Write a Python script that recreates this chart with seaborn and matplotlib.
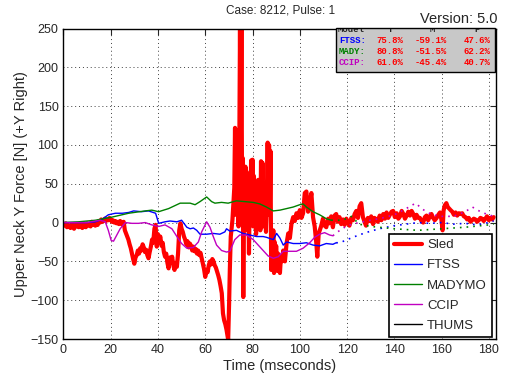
import numpy as np
import pandas as pd
import seaborn as sns
import matplotlib.pyplot as plt
from matplotlib.patches import Rectangle

# ---------------- data ----------------
# Sled, split into pieces: quiet start, pre-impact dip, spike zone, tail
sled_t_a = [0, 0.5, 1, 1.5, 2, 2.5, 3, 3.5, 4, 4.5, 5, 5.5, 6, 6.5, 7, 7.5, 8, 8.5, 9, 9.5,
            10, 10.5, 11, 11.5, 12, 12.5, 13, 13.5, 14, 14.5, 15, 15.5, 16, 16.5, 17, 17.5,
            18, 18.5, 19, 19.5, 20, 20.5, 21, 21.5, 22, 22.5, 23, 23.5, 24, 24.5, 25, 25.5]
sled_f_a = [-2, -4, -1, -6, -3, -5, -7, -2, -4, -8, -3, -5, -2, -6, -1, -4, -7, -3, -2, -6,
            -1, -4, -2, -5, 1, -3, 0, -4, -1, -3, 2, 0, 4, 1, 3, 5, 2, 4, 3, 6,
            4, 1, 3, 0, 2, -1, 1, -2, 2, 0, -3, 1]

sled_t_b = [26, 26.5, 27, 27.5, 28, 28.5, 29, 29.5, 30, 30.5, 31, 31.5, 32, 32.5, 33, 33.5,
            34, 34.5, 35, 35.5, 36, 36.5, 37, 37.5, 38, 38.5, 39, 39.5, 40, 40.5, 41, 41.5,
            42, 42.5, 43, 43.5, 44, 44.5, 45, 45.5, 46, 46.5, 47, 47.5, 48, 48.5, 49, 49.5,
            50, 50.5, 51, 51.5, 52, 52.5, 53, 53.5, 54, 54.5, 55, 55.5, 56, 56.5, 57, 57.5,
            58, 58.5, 59, 59.5, 60, 60.5, 61, 61.5, 62, 62.5, 63, 63.5, 64, 64.5, 65, 65.5,
            66, 66.5, 67, 67.5, 68, 68.5, 69, 69.7, 70.1, 70.4, 70.8, 71.5]
sled_f_b = [-10, -14, -18, -22, -28, -33, -40, -47, -53, -45, -42, -36, -40, -33, -36, -28,
            -32, -38, -35, -42, -46, -38, -31, -22, -26, -8, -3, -31, -15, -22, -18, -30,
            -26, -38, -44, -40, -52, -59, -45, -52, -44, -55, -61, -52, -57, -40, -10, -1,
            -8, -12, -18, -22, -28, -24, -32, -27, -30, -36, -31, -37, -34, -40, -36, -42,
            -39, -46, -53, -60, -70, -61, -64, -55, -50, -54, -47, -50, -55, -58, -63, -68,
            -74, -82, -91, -117, -126, -131, -138, -151, -104, -61, -18, 3]

sled_t_c = [72.0, 72.3, 72.6, 72.9, 73.2, 73.5, 73.8, 74.1, 74.4, 74.7, 75.0, 75.3, 75.6,
            75.9, 76.1, 76.4, 76.7, 77.0, 77.3, 77.6, 77.9, 78.2, 78.5, 78.8, 79.1, 79.4,
            79.7, 80.0, 80.3, 80.6, 80.9, 81.2, 81.5, 81.8, 82.1, 82.4, 82.7, 83.0, 83.3,
            83.6, 83.9, 84.2, 84.5, 84.8, 85.1, 85.4, 85.7, 86.0, 86.4, 86.7, 87.0, 87.3,
            87.6, 87.9, 88.2, 88.5, 88.8, 89.1, 89.4, 89.7, 90.0, 90.4, 90.8, 91.2, 91.6,
            92.0, 92.3]
sled_f_c = [30, 45, 122, 10, 118, 40, 119, -5, 90, 248, 60, 249, 20,
            83, -96, 70, 10, 72, 0, 65, -10, 50, -40, 30, 5, 80,
            20, 81, -5, 60, 10, 45, -15, 40, 0, 55, 10, 50, -10,
            79, 15, 77, -5, 50, 0, 35, -12, 20, 103, 30, 100, 10,
            92, -61, -20, -44, -10, -65, -25, -55, -30, -62, -40, -58, -65,
            -45, -50]

sled_t_d = [93.0, 93.7, 94.4, 95.1, 95.8, 96.5, 97.2, 97.9, 98.6, 99.3, 100.0, 100.7, 101.4,
            102.1, 102.8, 103.5, 104.2, 104.9, 105.6, 106.3, 107.0, 107.4, 108.0, 109.0,
            109.8, 110.5, 111.2, 112.0, 112.6, 113.3, 114.0, 114.7, 115.4, 116.1, 116.8,
            117.5, 118.3, 119.0, 119.7, 120.4, 121.0, 121.8, 122.5, 123.2, 123.9, 124.6,
            125.3, 126.0, 126.7, 127.4, 128.0, 128.8, 129.5, 130.2, 131.0, 131.6, 132.3,
            133.0, 133.8, 134.5, 135.3, 136.0, 136.7, 137.4, 138.1, 138.8, 139.5, 140.2,
            141.0, 141.7, 142.4, 143.1, 143.8, 144.5, 145.2, 145.9, 146.6, 147.3, 148.0,
            148.7, 149.4, 150.1, 150.8, 151.5, 152.2, 152.9, 153.6, 154.3, 155.0, 155.7,
            156.4, 157.1, 157.9, 158.6, 159.3, 159.9, 160.4, 160.8, 161.3, 162.0, 162.6,
            163.2, 163.8, 164.5, 165.2, 165.9, 166.6, 167.3, 168.0, 168.7, 169.4, 170.1,
            170.8, 171.5, 172.2, 172.9, 173.6, 174.3, 175.0, 175.7, 176.4, 177.1, 177.8,
            178.5, 179.2, 180.0, 180.7, 181.4, 182.0]
sled_f_d = [-36, -50, -27, -14, -20, -1, 7, 2, 12, 6, 16, 6, 12,
            38, 40, 14, 24, 38, 7, -5, -27, -44, -14, -5,
            5, -4, -6, 5, -1, 8, -6, 9, 11, 1, 7,
            -2, 4, -3, 5, 0, -4, 6, 3, 11, 15, 6,
            21, 25, 7, 1, -4, 6, 2, 8, -2, 6, 4,
            1, 9, 3, 11, 5, 13, 6, 10, 14, 15, 7,
            12, 5, 8, 15, 11, 5, 9, 14, 9, 15, 11,
            5, 10, 6, 6, 2, 0, 7, 9, 3, 8, 11,
            6, 3, 6, 10, 13, 4, -10, 15, 22, 25, 20,
            18, 16, 14, 10, 13, 9, 12, 11, 12, 8, 7,
            4, 6, 1, 3, 5, 4, 1, 3, 6, 5, 2,
            5, 8, 3, 6, 4, 7]

ftss_t = [0, 5, 10, 13.5, 16.3, 19, 22, 25, 27.6, 29.7, 33, 36, 39, 40.3, 43, 45.1,
          48, 50, 52.2, 53.6, 55, 56.4, 57.8, 60.6, 63.4, 66.2, 68.3, 69, 70.4, 73.2,
          76, 78.8, 81.7, 84.5, 85.9, 88.8, 90.2, 91.6, 93, 94.4, 97.2, 100, 102.8,
          105.6, 108.4, 111.2, 114, 115.4]
ftss_f = [0, 0, 0, 1, 4, 10, 12, 12, 13, 15, 14, 15, 12, -1, 1, 2,
          1, 3, -6, -8, -7, -10, -15, -15, -14, -15, -12, -8, -11, -10,
          -14, -16, -18, -18, -19, -22, -14, -20, -29, -25, -27, -27, -26,
          -29, -30, -27, -28, -26]
ftss_dot_t = [115.4, 117, 120, 125, 130, 135, 140, 145, 150, 155, 160, 165, 170, 175, 180, 182]
ftss_dot_f = [-26, -26, -22, -16, -11, -7, -4, -2, 0, -1, 0, -2, -1, -3, 0, 2]

mady_t = [0, 6.5, 13.5, 20.5, 27.6, 34.6, 37.4, 40.3, 44.5, 49.4, 53.6, 55.7, 57.8,
          60.6, 62.7, 64.1, 66.9, 69.7, 73.2, 76.7, 80.3, 83.1, 85.9, 88.8, 91.6,
          94.4, 97.2, 100, 101.4, 102.8, 105.6, 108.4, 111.2, 113.3]
mady_f = [0, 1, 3, 7, 12, 15, 16, 14, 18, 25, 25, 23, 27,
          33, 27, 25, 26, 25, 28, 27, 26, 24, 20, 15, 16,
          18, 20, 23, 24, 20, 14, 10, 5, 3]
mady_dot_t = [113.3, 118, 122, 125, 130, 140, 150, 160, 170, 180, 182]
mady_dot_f = [3, 3, 8, -2, -5, -8, -10, -8, -6, -3, -2]

ccip_t = [0, 10, 15.6, 17.7, 19, 20.2, 21.2, 22.6, 24, 26.2, 29, 31.8, 34.6, 37.4,
          40.3, 43, 45.9, 48, 50, 52.2, 55, 57.1, 58.5, 60.6, 62, 63.4, 64.8, 66.9,
          69, 70.4, 72.5, 74.6, 77.4, 80.3, 82.4, 84.5, 86.6, 88.8, 90.9, 93, 95.8,
          98.6, 101.4, 104.2, 106.3, 108.4, 110.5, 112.6, 114]
ccip_f = [0, 0, 3, 1, -10, -23, -24, -16, -8, 0, -1, -1, 0, -3,
          -5, -3, -8, -18, -27, -33, -32, -25, -12, 1, -6, -18, -29, -36,
          -38, -37, -22, -16, -16, -22, -29, -36, -43, -46, -44, -37, -37,
          -37, -33, -26, -19, -15, -13, -16, -17]
ccip_dot_t = [114, 116, 120, 125, 130, 135, 140, 145, 149, 152, 156, 160, 165, 170, 173, 177, 182]
ccip_dot_f = [-17, -12, -4, 0, 3, 6, 10, 18, 25, 17, 10, 8, 8, 14, 20, 13, 8]

table_models = ["FTSS:", "MADY:", "CCIP:"]
table_colors = ["#0000ff", "#008000", "#c000c0"]
table_t = ["75.8%", "80.8%", "61.0%"]
table_m = ["-59.1%", "-51.5%", "-45.4%"]
table_p = ["47.6%", "62.2%", "40.7%"]

sled = pd.DataFrame({"t": sled_t_a + sled_t_b + sled_t_c + sled_t_d,
                     "f": sled_f_a + sled_f_b + sled_f_c + sled_f_d})

# ---------------- plot ----------------
sns.set_style("white")
plt.rcParams['font.family'] = ['Liberation Sans', 'DejaVu Sans']

fig = plt.figure(figsize=(5.07, 3.87), dpi=100)
ax = fig.add_axes([63.4 / 507, 1 - 339 / 387, 432.6 / 507, 310.5 / 387])

sns.lineplot(data=sled, x="t", y="f", color="#ff0000", lw=3, label="Sled", ax=ax,
             sort=False, estimator=None)
sns.lineplot(x=ftss_t, y=ftss_f, color="#0000ff", lw=1, label="FTSS", ax=ax,
             sort=False, estimator=None)
sns.lineplot(x=mady_t, y=mady_f, color="#008000", lw=1, label="MADYMO", ax=ax,
             sort=False, estimator=None)
sns.lineplot(x=ccip_t, y=ccip_f, color="#c000c0", lw=1, label="CCIP", ax=ax,
             sort=False, estimator=None)
ax.plot([], [], color="k", lw=1, label="THUMS")

# dotted continuations
ax.plot(ftss_dot_t, ftss_dot_f, color="#0000ff", lw=1.2, ls=(0, (1, 3)))
ax.plot(mady_dot_t, mady_dot_f, color="#008000", lw=1.2, ls=(0, (1, 3)))
ax.plot(ccip_dot_t, ccip_dot_f, color="#c000c0", lw=1.2, ls=(0, (1, 3)))

ax.set_xlim(0, 183)
ax.set_ylim(-150, 250)
ax.set_xticks(np.arange(0, 181, 20))
ax.set_yticks(np.arange(-150, 251, 50))
ax.grid(True, color="#404040", ls=(0, (1, 3)), lw=0.7)
ax.tick_params(direction="in", top=True, right=True, length=4, labelsize=9)
for s in ax.spines.values():
    s.set_color("k")
    s.set_linewidth(1)

ax.set_xlabel("Time (mseconds)", fontsize=10.5, labelpad=2)
ax.set_ylabel("Upper Neck Y Force [N] (+Y Right)", fontsize=10.5, labelpad=2)

fig.text(0.553, 0.972, "Case: 8212, Pulse: 1", ha="center", va="center", fontsize=8.5)
fig.text(0.982, 0.952, "Version: 5.0", ha="right", va="center", fontsize=10.5)

leg = ax.legend(loc="lower right", bbox_to_anchor=(0.991, 0.006), borderaxespad=0,
                fontsize=9.5, handlelength=2.1, labelspacing=0.6, frameon=True,
                fancybox=False, edgecolor="k", borderpad=0.4, handletextpad=0.4)
leg.get_frame().set_linewidth(1.2)
leg.get_frame().set_alpha(1)

# statistics table
ax.add_patch(Rectangle((0.630, 0.86), 0.368, 0.142, transform=ax.transAxes,
                       facecolor="#c8c8c8", edgecolor="k", lw=1, zorder=5, clip_on=False))
mono = dict(family=["Liberation Mono", "DejaVu Sans Mono"], weight="bold", fontsize=6.5)
ax.text(0.635, 0.997, "Model", transform=ax.transAxes, va="center", ha="left",
        zorder=6, clip_on=True, **mono)
for hx, h in zip([0.755, 0.852, 0.956], ["T", "M", "P"]):
    ax.text(hx, 0.997, h, transform=ax.transAxes, va="center", ha="center",
            zorder=6, clip_on=True, **mono)
for i, yy in enumerate([0.961, 0.925, 0.890]):
    ax.text(0.637, yy, table_models[i], transform=ax.transAxes, va="center", ha="left",
            color=table_colors[i], zorder=6, **mono)
    ax.text(0.785, yy, table_t[i], transform=ax.transAxes, va="center", ha="right",
            color="#ff0000", zorder=6, **mono)
    ax.text(0.886, yy, table_m[i], transform=ax.transAxes, va="center", ha="right",
            color="#ff0000", zorder=6, **mono)
    ax.text(0.987, yy, table_p[i], transform=ax.transAxes, va="center", ha="right",
            color="#ff0000", zorder=6, **mono)

fig.savefig("out.png", dpi=100)
